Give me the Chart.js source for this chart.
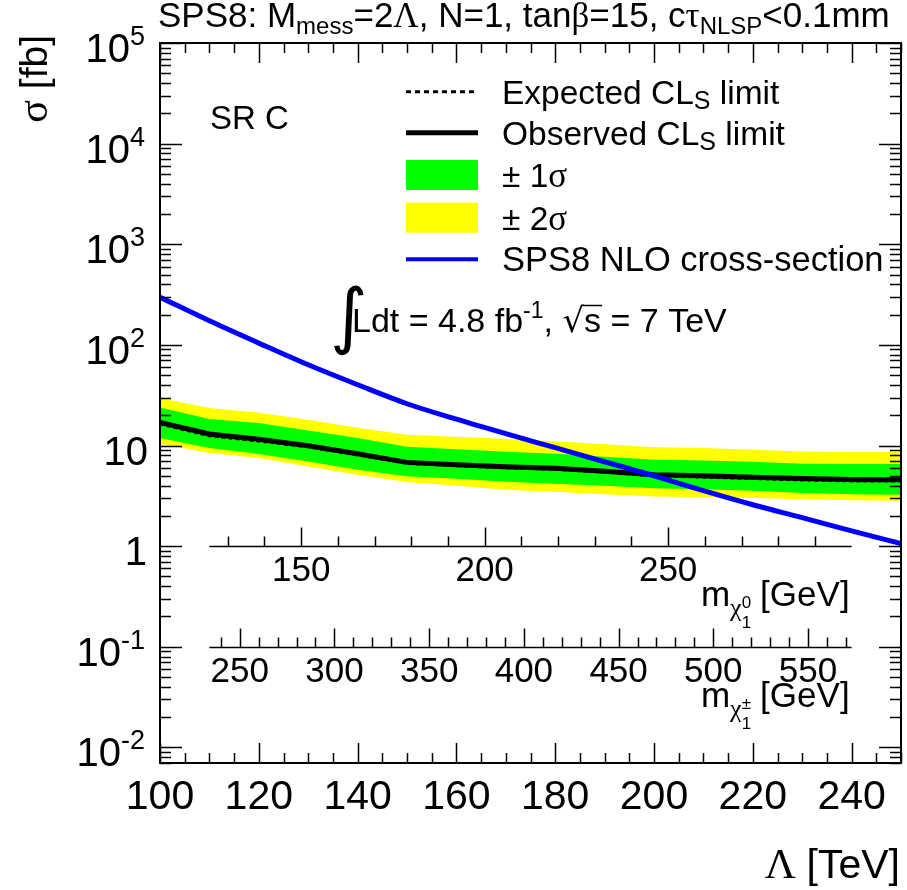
<!DOCTYPE html>
<html>
<head>
<meta charset="utf-8">
<script src="https://cdn.jsdelivr.net/npm/chart.js@4.4.0/dist/chart.umd.min.js"></script>
<style>
  html, body { margin: 0; padding: 0; background: #fff; }
  #wrap { width: 907px; height: 890px; }
</style>
</head>
<body>
<div id="wrap"><canvas id="limit-chart" width="907" height="890"></canvas></div>
<script>
// Lambda grid [TeV] and the cross-section limits [fb]
const lambdaTeV = [100, 110, 120, 130, 140, 150, 160, 170, 180, 190, 200, 210, 220, 230, 240, 250];
const observed  = [16.96, 13.0, 11.55, 9.95, 8.29, 6.80, 6.45, 6.16, 5.95, 5.56, 5.13, 5.01, 4.84, 4.70, 4.60, 4.56];
const expected  = [16.4, 12.5, 11.1, 9.7, 8.05, 6.65, 6.30, 6.00, 5.80, 5.45, 5.00, 4.85, 4.70, 4.55, 4.45, 4.45];
const plus1     = [23.9, 18.3, 16.7, 14.1, 11.9, 9.73, 9.19, 8.68, 8.29, 7.74, 7.23, 7.11, 6.90, 6.60, 6.55, 6.55];
const minus1    = [11.87, 9.45, 8.23, 6.95, 5.75, 4.96, 4.68, 4.37, 4.18, 3.99, 3.77, 3.68, 3.56, 3.38, 3.28, 3.25];
const plus2     = [29.6, 23.6, 21.2, 18.0, 15.0, 12.8, 12.2, 11.6, 11.0, 10.3, 9.62, 9.45, 9.08, 8.74, 8.62, 8.62];
const minus2    = [10.4, 8.42, 7.51, 6.20, 5.13, 4.34, 3.99, 3.64, 3.48, 3.28, 3.12, 3.07, 3.01, 2.93, 2.86, 2.83];
const sps8Xsec  = [298, 173.5, 104.2, 63.4, 40.2, 26.0, 18.25, 13.1, 9.51, 6.90, 5.01, 3.56, 2.58, 1.92, 1.42, 1.06];

// axis setup
const xRange = [100, 250];
const xTickLabels = [100, 120, 140, 160, 180, 200, 220, 240];
const yRange = [0.007, 1e5];
const yDecades = [-2, -1, 0, 1, 2, 3, 4, 5];

// extra mass axes drawn inside the frame (placed in Lambda units along x, sigma units along y)
const massAxisSpan = [110, 240];
const neutralinoRange = [125, 300];
const neutralinoLabels = [150, 200, 250];
const neutralinoAxisAt = 1;
const charginoRange = [234, 573];
const charginoLabels = [250, 300, 350, 400, 450, 500, 550];
const charginoAxisAt = 0.1;

const SANS = '"Liberation Sans", Arial, Helvetica, sans-serif';
const SERIF = '"Liberation Serif", "Times New Roman", serif';

function pts(ys) {
  return lambdaTeV.map((x, i) => ({ x: x, y: ys[i] }));
}

// draws a run of text pieces (sizes / offsets for sub- and superscripts)
function richWidth(ctx, parts) {
  let w = 0;
  parts.forEach(p => {
    ctx.font = p.size + 'px ' + (p.family || SANS);
    w += ctx.measureText(p.text).width;
  });
  return w;
}
function drawRich(ctx, parts, x, y, align) {
  let cx = align === 'right' ? x - richWidth(ctx, parts) : x;
  ctx.textAlign = 'left';
  ctx.textBaseline = 'alphabetic';
  parts.forEach(p => {
    ctx.font = p.size + 'px ' + (p.family || SANS);
    ctx.fillText(p.text, cx, y + (p.dy || 0));
    cx += ctx.measureText(p.text).width;
  });
  return cx;
}

const rootFrame = {
  id: 'rootFrame',
  afterDraw(chart) {
    const ctx = chart.ctx;
    const a = chart.chartArea;
    const xs = chart.scales.x, ys = chart.scales.y;
    ctx.save();
    ctx.strokeStyle = '#000';
    ctx.fillStyle = '#000';

    // frame
    ctx.lineWidth = 2;
    ctx.strokeRect(a.left, a.top, a.right - a.left, a.bottom - a.top);

    // x ticks, bottom and top, pointing inside
    ctx.lineWidth = 1.5;
    ctx.beginPath();
    for (let v = xRange[0]; v <= xRange[1]; v += 5) {
      const px = Math.round(xs.getPixelForValue(v)) + 0.5;
      const len = (v % 20 === 0) ? 20 : 10;
      ctx.moveTo(px, a.bottom); ctx.lineTo(px, a.bottom - len);
      ctx.moveTo(px, a.top); ctx.lineTo(px, a.top + len);
    }
    // y ticks, left and right (log)
    for (let d = -3; d <= 5; d++) {
      for (let k = 1; k <= 9; k++) {
        const v = k * Math.pow(10, d);
        if (v < yRange[0] * 0.999 || v > yRange[1] * 1.001) continue;
        const py = Math.round(ys.getPixelForValue(v)) + 0.5;
        const len = k === 1 ? 22 : 11;
        ctx.moveTo(a.left, py); ctx.lineTo(a.left + len, py);
        ctx.moveTo(a.right, py); ctx.lineTo(a.right - len, py);
      }
    }
    ctx.stroke();

    // y tick labels 10^n
    yDecades.forEach(d => {
      const py = ys.getPixelForValue(Math.pow(10, d));
      const base = py + 19;
      if (d === 0) drawRich(ctx, [{ text: '1', size: 40 }], 147, base, 'right');
      else if (d === 1) drawRich(ctx, [{ text: '10', size: 40 }], 148, base, 'right');
      else drawRich(ctx, [{ text: '10', size: 40 }, { text: d < 0 ? '-' + (-d) : String(d), size: 27, dy: -17 }], 145, base, 'right');
    });

    // mass axes
    function massAxis(range, labels, atY, minorStep) {
      const x0 = xs.getPixelForValue(massAxisSpan[0]);
      const x1 = xs.getPixelForValue(massAxisSpan[1]);
      const py = Math.round(ys.getPixelForValue(atY)) + 0.5;
      const toPx = m => x0 + (m - range[0]) / (range[1] - range[0]) * (x1 - x0);
      ctx.lineWidth = 1.5;
      ctx.beginPath();
      ctx.moveTo(x0, py); ctx.lineTo(x1, py);
      const first = Math.ceil(range[0] / minorStep) * minorStep;
      for (let m = first; m < range[1]; m += minorStep) {
        const px = Math.round(toPx(m)) + 0.5;
        const len = (m % 50 === 0) ? 19 : 10;
        ctx.moveTo(px, py); ctx.lineTo(px, py - len);
      }
      ctx.stroke();
      ctx.font = '35px ' + SANS;
      ctx.textAlign = 'center';
      ctx.textBaseline = 'alphabetic';
      labels.forEach(m => ctx.fillText(String(m), toPx(m), py + 34));
      return { x1: x1, y: py };
    }
    const nAx = massAxis(neutralinoRange, neutralinoLabels, neutralinoAxisAt, 10);
    const cAx = massAxis(charginoRange, charginoLabels, charginoAxisAt, 10);

    function massTitle(ax, sup) {
      const base = ax.y + 59;
      const right = ax.x1 - 2;
      ctx.font = '35px ' + SANS;
      const wG = ctx.measureText('[GeV]').width;
      ctx.textAlign = 'left';
      ctx.fillText('[GeV]', right - wG, base);
      let cx = right - wG - 9;
      ctx.font = '17px ' + SANS;
      const wS = Math.max(ctx.measureText(sup).width, ctx.measureText('1').width);
      cx -= wS;
      ctx.fillText(sup, cx, base + 2);
      ctx.fillText('1', cx, base + 22);
      ctx.font = '26px ' + SERIF;
      const wC = ctx.measureText('χ').width;
      cx -= wC;
      ctx.fillText('χ', cx, base + 10);
      ctx.font = '35px ' + SANS;
      const wM = ctx.measureText('m').width;
      ctx.fillText('m', cx - wM, base);
    }
    massTitle(nAx, '0');
    massTitle(cAx, '±');

    // title
    drawRich(ctx, [
      { text: 'SPS8: M', size: 35 }, { text: 'mess', size: 24, dy: 7 },
      { text: '=2', size: 35 }, { text: 'Λ', size: 35, family: SERIF },
      { text: ', N=1, tan', size: 35 }, { text: 'β', size: 35, family: SERIF },
      { text: '=15, c', size: 35 }, { text: 'τ', size: 35, family: SERIF },
      { text: 'NLSP', size: 24, dy: 7 }, { text: '<0.1mm', size: 35 }
    ], 158, 27, 'left');

    // y title
    ctx.save();
    ctx.translate(47, 35);
    ctx.rotate(-Math.PI / 2);
    drawRich(ctx, [{ text: 'σ', size: 42, family: SERIF }, { text: ' [fb]', size: 39 }], 0, 0, 'right');
    ctx.restore();

    // x title
    ctx.font = '41px ' + SANS;
    const wT = ctx.measureText('[TeV]').width;
    ctx.textAlign = 'left';
    ctx.fillText('[TeV]', 900 - wT, 878);
    ctx.font = '43px ' + SERIF;
    const wL = ctx.measureText('Λ ').width;
    ctx.fillText('Λ', 900 - wT - wL, 878);

    // SR label
    drawRich(ctx, [{ text: 'SR C', size: 33 }], 210, 129, 'left');

    // legend
    const lx0 = 406, lx1 = 478, tx = 502;
    const rows = [91.7, 132.7, 175, 217.7, 259.3];
    ctx.lineWidth = 3;
    ctx.setLineDash([5, 4]);
    ctx.beginPath(); ctx.moveTo(lx0, rows[0]); ctx.lineTo(lx1, rows[0]); ctx.stroke();
    ctx.setLineDash([]);
    ctx.lineWidth = 5;
    ctx.beginPath(); ctx.moveTo(lx0, rows[1]); ctx.lineTo(lx1, rows[1]); ctx.stroke();
    ctx.fillStyle = '#00ff00';
    ctx.fillRect(lx0, rows[2] - 15, lx1 - lx0, 30);
    ctx.fillStyle = '#ffff00';
    ctx.fillRect(lx0, rows[3] - 15, lx1 - lx0, 30);
    ctx.strokeStyle = '#0000ff';
    ctx.lineWidth = 4;
    ctx.beginPath(); ctx.moveTo(lx0, rows[4]); ctx.lineTo(lx1, rows[4]); ctx.stroke();
    ctx.fillStyle = '#000';
    ctx.strokeStyle = '#000';
    drawRich(ctx, [{ text: 'Expected CL', size: 33.5 }, { text: 'S', size: 25, dy: 5 }, { text: ' limit', size: 33.5 }], tx, rows[0] + 12, 'left');
    drawRich(ctx, [{ text: 'Observed CL', size: 33.5 }, { text: 'S', size: 25, dy: 5 }, { text: ' limit', size: 33.5 }], tx, rows[1] + 12, 'left');
    drawRich(ctx, [{ text: '± 1', size: 33.5 }, { text: 'σ', size: 35, family: SERIF }], tx, rows[2] + 12, 'left');
    drawRich(ctx, [{ text: '± 2', size: 33.5 }, { text: 'σ', size: 35, family: SERIF }], tx, rows[3] + 12, 'left');
    drawRich(ctx, [{ text: 'SPS8 NLO cross-section', size: 34.5 }], tx, rows[4] + 12, 'left');

    // luminosity label
    ctx.font = '72px "DejaVu Sans", ' + SANS;
    ctx.fillText('∫', 330, 340);
    let cx = drawRich(ctx, [{ text: 'Ldt = 4.8 fb', size: 34 }, { text: '-1', size: 23, dy: -14 }, { text: ', ', size: 34 }], 352, 332, 'left');
    ctx.font = '34px "DejaVu Sans", ' + SANS;
    ctx.fillText('√', cx, 332);
    cx += ctx.measureText('√').width;
    ctx.font = '34px ' + SANS;
    const wS = ctx.measureText('s').width;
    ctx.fillText('s', cx, 332);
    ctx.lineWidth = 1.5;
    ctx.beginPath(); ctx.moveTo(cx - 1, 305.5); ctx.lineTo(cx + wS + 1, 305.5); ctx.stroke();
    ctx.fillText(' = 7 TeV', cx + wS, 332);

    ctx.restore();
  }
};

new Chart(document.getElementById('limit-chart').getContext('2d'), {
  type: 'line',
  data: {
    datasets: [
      { label: 'SPS8 NLO cross-section', data: pts(sps8Xsec), borderColor: '#0000ff', borderWidth: 5, fill: false, cubicInterpolationMode: 'monotone', order: 0 },
      { label: 'Observed CLs limit', data: pts(observed), borderColor: '#000', borderWidth: 5, fill: false, order: 1 },
      { label: 'Expected CLs limit', data: pts(expected), borderColor: '#000', borderWidth: 3, borderDash: [4, 3], fill: false, order: 2 },
      { label: '+1 sigma', data: pts(plus1), borderWidth: 0, borderColor: 'rgba(0,0,0,0)', backgroundColor: '#00ff00', fill: '+1', order: 3 },
      { label: '-1 sigma', data: pts(minus1), borderWidth: 0, borderColor: 'rgba(0,0,0,0)', fill: false, order: 4 },
      { label: '+2 sigma', data: pts(plus2), borderWidth: 0, borderColor: 'rgba(0,0,0,0)', backgroundColor: '#ffff00', fill: '+1', order: 5 },
      { label: '-2 sigma', data: pts(minus2), borderWidth: 0, borderColor: 'rgba(0,0,0,0)', fill: false, order: 6 }
    ]
  },
  options: {
    responsive: false,
    animation: false,
    devicePixelRatio: 1,
    layout: { padding: { left: 160, top: 43, right: 6, bottom: 0 } },
    elements: { point: { radius: 0 }, line: { tension: 0 } },
    plugins: { legend: { display: false }, tooltip: { enabled: false } },
    scales: {
      x: {
        type: 'linear', min: xRange[0], max: xRange[1],
        afterFit: s => { s.height = 127; },
        afterBuildTicks: s => { s.ticks = xTickLabels.map(v => ({ value: v })); },
        grid: { display: false, drawTicks: false },
        border: { display: false },
        ticks: {
          autoSkip: false, maxRotation: 0, padding: 10, color: '#000',
          font: { family: SANS, size: 41 }
        }
      },
      y: {
        type: 'logarithmic', min: yRange[0], max: yRange[1],
        afterFit: s => { s.width = 0; },
        grid: { display: false, drawTicks: false },
        border: { display: false },
        ticks: { display: false }
      }
    }
  },
  plugins: [rootFrame]
});
</script>
</body>
</html>
